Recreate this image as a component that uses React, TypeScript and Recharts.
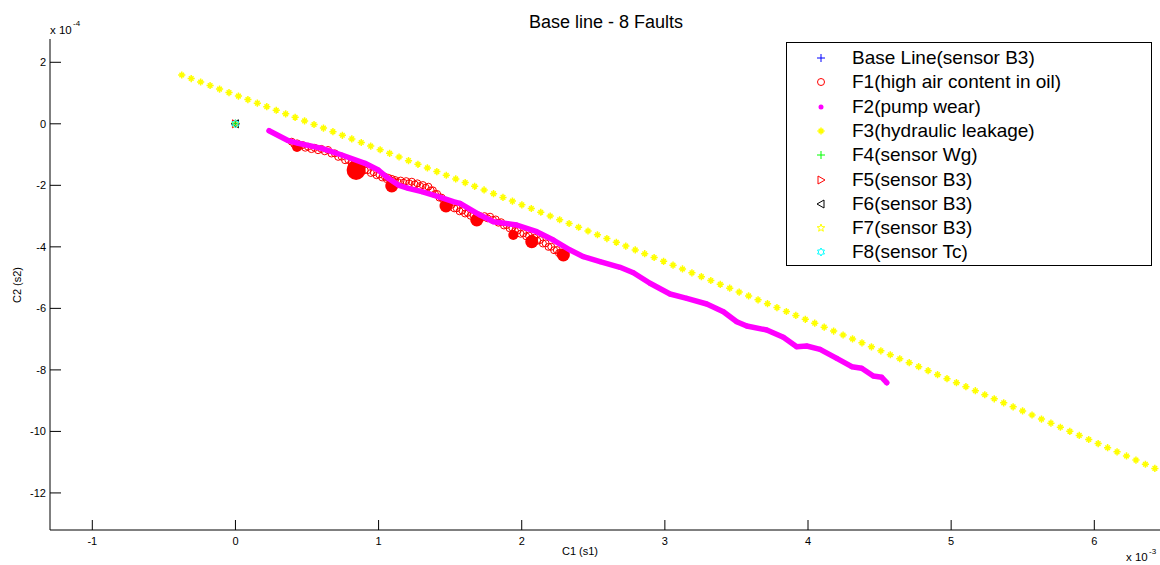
import React from "react";
import { ScatterChart, Scatter, XAxis, YAxis } from "recharts";

// axis ticks (x in units of 1e-3, y in units of 1e-4)
const xTicks = [-1, 0, 1, 2, 3, 4, 5, 6];
const yTicks = [-12, -10, -8, -6, -4, -2, 0, 2];

// Base line + F4..F8 all sit on the origin
const originX = [0];
const originY = [0];

// F1 (high air content in oil) - open circle trail
const f1X = [
  0.393, 0.431, 0.469, 0.507, 0.554, 0.6, 0.647, 0.694, 0.742, 0.789, 0.835, 0.88, 0.926, 0.966, 1.005, 1.045,
  1.068, 1.092, 1.115, 1.154, 1.193, 1.232, 1.271, 1.309, 1.348, 1.379, 1.409, 1.44, 1.475, 1.511, 1.546, 1.585,
  1.623, 1.662, 1.701, 1.74, 1.779, 1.818, 1.856, 1.895, 1.934, 1.972, 2.011, 2.05, 2.089, 2.128, 2.167, 2.206,
  2.245, 2.274, 2.303,
];
const f1Y = [
  -0.582, -0.636, -0.69, -0.744, -0.78, -0.816, -0.852, -0.96, -1.069, -1.177, -1.285, -1.394, -1.502, -1.575,
  -1.647, -1.72, -1.756, -1.791, -1.827, -1.845, -1.864, -1.882, -1.936, -1.991, -2.045, -2.163, -2.282, -2.4,
  -2.516, -2.631, -2.747, -2.82, -2.892, -2.965, -2.983, -3.002, -3.02, -3.11, -3.2, -3.29, -3.38, -3.47, -3.56,
  -3.633, -3.705, -3.778, -3.886, -3.995, -4.103, -4.184, -4.265,
];
// F1 second pass, sitting just under the first one
const f1bX = [
  0.412, 0.45, 0.488, 0.531, 0.577, 0.624, 0.671, 0.718, 0.766, 0.812, 0.858, 0.903, 0.946, 0.986, 1.025, 1.057,
  1.08, 1.104, 1.135, 1.174, 1.213, 1.252, 1.29, 1.329, 1.364, 1.394, 1.425, 1.458, 1.493, 1.529, 1.566, 1.604,
  1.643, 1.682, 1.721, 1.76, 1.799, 1.837, 1.876, 1.915, 1.953, 1.992, 2.031, 2.07, 2.109, 2.148, 2.187, 2.226,
  2.26, 2.289,
];
const f1bY = [
  -0.669, -0.723, -0.777, -0.822, -0.858, -0.894, -0.966, -1.075, -1.183, -1.291, -1.4, -1.508, -1.599, -1.671,
  -1.744, -1.798, -1.834, -1.869, -1.896, -1.915, -1.933, -1.969, -2.024, -2.078, -2.164, -2.283, -2.401, -2.518,
  -2.634, -2.749, -2.844, -2.916, -2.989, -3.034, -3.053, -3.071, -3.125, -3.215, -3.305, -3.395, -3.485, -3.575,
  -3.657, -3.729, -3.802, -3.892, -4.001, -4.109, -4.204, -4.285,
];
// F1 dwell spots (many overlapping samples)
const f1BigX = [0.843];
const f1BigY = [-1.502];
const f1MidX = [1.092, 1.471, 1.686, 2.07, 2.291];
const f1MidY = [-2.022, -2.672, -3.127, -3.833, -4.265];
const f1SmallX = [0.43, 1.941];
const f1SmallY = [-0.754, -3.615];

// F2 (pump wear)
const f2X = [
  0.235, 0.37, 0.439, 0.603, 0.743, 0.905, 0.998, 1.068, 1.138, 1.208, 1.302, 1.417, 1.522, 1.569, 1.709, 1.802,
  1.965, 2.105, 2.221, 2.338, 2.431, 2.547, 2.687, 2.78, 2.896, 3.036, 3.153, 3.293, 3.409, 3.502, 3.572, 3.712,
  3.828, 3.921, 3.991, 4.084, 4.201, 4.306, 4.375, 4.456, 4.515, 4.55,
];
const f2Y = [
  -0.224, -0.549, -0.634, -0.797, -1.014, -1.284, -1.502, -1.772, -1.99, -2.097, -2.207, -2.37, -2.532, -2.585,
  -2.965, -3.183, -3.29, -3.508, -3.778, -4.103, -4.321, -4.483, -4.665, -4.841, -5.185, -5.533, -5.673, -5.858,
  -6.108, -6.434, -6.573, -6.703, -6.941, -7.246, -7.224, -7.331, -7.624, -7.897, -7.949, -8.199, -8.241, -8.417,
];

// F3 (hydraulic leakage)
const f3X = [
  -0.375, -0.309, -0.243, -0.177, -0.111, -0.045, 0.021, 0.087, 0.153, 0.219, 0.285, 0.351, 0.417, 0.483, 0.549,
  0.615, 0.681, 0.747, 0.813, 0.879, 0.945, 1.011, 1.077, 1.143, 1.209, 1.275, 1.341, 1.407, 1.473, 1.539, 1.605,
  1.671, 1.737, 1.803, 1.869, 1.935, 2.001, 2.067, 2.133, 2.199, 2.265, 2.331, 2.397, 2.463, 2.529, 2.595, 2.661,
  2.727, 2.793, 2.859, 2.925, 2.991, 3.057, 3.123, 3.189, 3.255, 3.321, 3.387, 3.453, 3.519, 3.585, 3.651, 3.717,
  3.783, 3.849, 3.915, 3.981, 4.047, 4.113, 4.179, 4.245, 4.311, 4.377, 4.443, 4.509, 4.575, 4.641, 4.707, 4.773,
  4.839, 4.905, 4.971, 5.037, 5.103, 5.169, 5.235, 5.301, 5.367, 5.433, 5.499, 5.565, 5.631, 5.697, 5.763, 5.829,
  5.895, 5.961, 6.027, 6.093, 6.159, 6.225, 6.291, 6.357, 6.423,
];
const f3Y = [
  1.586, 1.472, 1.359, 1.245, 1.13, 1.016, 0.902, 0.787, 0.672, 0.556, 0.441, 0.325, 0.21, 0.093, -0.023, -0.139,
  -0.256, -0.373, -0.49, -0.607, -0.725, -0.843, -0.961, -1.079, -1.197, -1.316, -1.434, -1.553, -1.673, -1.792,
  -1.911, -2.031, -2.151, -2.271, -2.392, -2.513, -2.633, -2.754, -2.876, -2.997, -3.119, -3.241, -3.363, -3.485,
  -3.607, -3.73, -3.853, -3.976, -4.1, -4.223, -4.347, -4.471, -4.595, -4.719, -4.844, -4.969, -5.094, -5.219,
  -5.344, -5.47, -5.596, -5.722, -5.848, -5.974, -6.101, -6.228, -6.355, -6.482, -6.61, -6.737, -6.865, -6.993,
  -7.121, -7.25, -7.379, -7.508, -7.637, -7.766, -7.896, -8.025, -8.155, -8.286, -8.416, -8.546, -8.677, -8.808,
  -8.939, -9.071, -9.202, -9.334, -9.466, -9.599, -9.731, -9.864, -9.997, -10.13, -10.263, -10.396, -10.53,
  -10.664, -10.798, -10.932, -11.067, -11.202,
];

const legendNames = [
  "Base Line(sensor B3)",
  "F1(high air content in oil)",
  "F2(pump wear)",
  "F3(hydraulic leakage)",
  "F4(sensor Wg)",
  "F5(sensor B3)",
  "F6(sensor B3)",
  "F7(sensor B3)",
  "F8(sensor Tc)",
];

const pts = (xs: number[], ys: number[]) => xs.map((x, i) => ({ x, y: ys[i] }));

const FONT = '"Liberation Sans", Arial, Helvetica, sans-serif';

// ─── marker shapes ──────────────────────────────────────────────────────────

const star = (cx: number, cy: number, n: number, ro: number, ri: number) => {
  const p: string[] = [];
  for (let k = 0; k < n * 2; k++) {
    const r = k % 2 === 0 ? ro : ri;
    const a = -Math.PI / 2 + (k * Math.PI) / n;
    p.push(`${cx + r * Math.cos(a)},${cy + r * Math.sin(a)}`);
  }
  return p.join(" ");
};

const markers: Record<string, (cx: number, cy: number) => React.ReactElement> = {
  base: (cx, cy) => (
    <path d={`M${cx - 4},${cy}H${cx + 4}M${cx},${cy - 4}V${cy + 4}`} stroke="#0000ff" strokeWidth={1} />
  ),
  f1: (cx, cy) => <circle cx={cx} cy={cy} r={3.5} fill="none" stroke="#ff0000" strokeWidth={1} />,
  f2: (cx, cy) => <circle cx={cx} cy={cy} r={2.5} fill="#ff00ff" />,
  f3: (cx, cy) => (
    <path
      d={`M${cx - 3.6},${cy}H${cx + 3.6}M${cx},${cy - 3.6}V${cy + 3.6}M${cx - 2.3},${cy - 2.3}L${cx + 2.3},${cy + 2.3}M${cx - 2.3},${cy + 2.3}L${cx + 2.3},${cy - 2.3}`}
      stroke="#ffff00"
      strokeWidth={1.5}
    />
  ),
  f4: (cx, cy) => (
    <path d={`M${cx - 4},${cy}H${cx + 4}M${cx},${cy - 4}V${cy + 4}`} stroke="#00ff00" strokeWidth={1} />
  ),
  f5: (cx, cy) => (
    <polygon points={`${cx + 4},${cy} ${cx - 3},${cy - 4} ${cx - 3},${cy + 4}`} fill="none" stroke="#ff0000" />
  ),
  f6: (cx, cy) => (
    <polygon points={`${cx - 4},${cy} ${cx + 3},${cy - 4} ${cx + 3},${cy + 4}`} fill="none" stroke="#000000" />
  ),
  f7: (cx, cy) => <polygon points={star(cx, cy, 5, 4, 1.7)} fill="none" stroke="#ffff00" />,
  f8: (cx, cy) => <polygon points={star(cx, cy, 6, 4, 2.3)} fill="none" stroke="#00ffff" />,
};
const legendKeys = ["base", "f1", "f2", "f3", "f4", "f5", "f6", "f7", "f8"];

const shapeOf = (key: string) => (p: any) => markers[key](p.cx, p.cy);
const blob = (r: number) => (p: any) => <circle cx={p.cx} cy={p.cy} r={r} fill="#ff0000" />;
const bigBlob = (p: any) => <ellipse cx={p.cx} cy={p.cy} rx={9.5} ry={10} fill="#ff0000" />;

// ─── ticks (MATLAB style: ticks inside the box) ─────────────────────────────

const BottomTick = ({ x, y, payload }: any) => (
  <g>
    <line x1={x} y1={y} x2={x} y2={y - 10} stroke="#000" />
    <text x={x} y={y + 11} textAnchor="middle" dominantBaseline="central" fontSize={11} fontFamily={FONT} fill="#000">
      {payload.value}
    </text>
  </g>
);
const TopTick = ({ x, y }: any) => <line x1={x} y1={y} x2={x} y2={y + 10} stroke="#000" />;
const LeftTick = ({ x, y, payload }: any) => (
  <g>
    <line x1={x} y1={y} x2={x + 11} y2={y} stroke="#000" />
    <text x={x - 4} y={y} textAnchor="end" dominantBaseline="central" fontSize={11} fontFamily={FONT} fill="#000">
      {payload.value}
    </text>
  </g>
);
const RightTick = ({ x, y }: any) => <line x1={x} y1={y} x2={x - 11} y2={y} stroke="#000" />;

export default function App() {
  const f1Data = [...pts(f1X, f1Y), ...pts(f1bX, f1bY)];
  return (
    <div style={{ position: "absolute", left: 0, top: 0, width: 1160, height: 565, overflow: "hidden", background: "#fff" }}>
      <ScatterChart width={1160} height={565} margin={{ top: 39, right: 0, bottom: 0, left: 0 }}>
        <XAxis
          xAxisId="b"
          dataKey="x"
          type="number"
          domain={[-1.2955, 6.459]}
          ticks={xTicks}
          allowDataOverflow
          height={35}
          tickSize={0}
          tickMargin={0}
          tickLine={false}
          tick={<BottomTick />}
          axisLine={{ stroke: "#000" }}
        />
        <XAxis
          xAxisId="t"
          orientation="top"
          type="number"
          domain={[-1.2955, 6.459]}
          ticks={xTicks}
          allowDataOverflow
          height={0}
          tickSize={0}
          tickMargin={0}
          tickLine={false}
          tick={<TopTick />}
          axisLine={{ stroke: "#000" }}
        />
        <YAxis
          yAxisId="l"
          dataKey="y"
          type="number"
          domain={[-13.205, 2.757]}
          ticks={yTicks}
          allowDataOverflow
          width={50}
          tickSize={0}
          tickMargin={0}
          tickLine={false}
          tick={<LeftTick />}
          axisLine={{ stroke: "#000" }}
        />
        <YAxis
          yAxisId="r"
          orientation="right"
          type="number"
          domain={[-13.205, 2.757]}
          ticks={yTicks}
          allowDataOverflow
          width={0}
          tickSize={0}
          tickMargin={0}
          tickLine={false}
          tick={<RightTick />}
          axisLine={false}
        />

        <Scatter name="Base Line(sensor B3)" xAxisId="b" yAxisId="l" data={pts(originX, originY)} shape={shapeOf("base")} isAnimationActive={false} />
        <Scatter name="F1 dwell big" xAxisId="b" yAxisId="l" data={pts(f1BigX, f1BigY)} shape={bigBlob} isAnimationActive={false} />
        <Scatter name="F1 dwell mid" xAxisId="b" yAxisId="l" data={pts(f1MidX, f1MidY)} shape={blob(6.5)} isAnimationActive={false} />
        <Scatter name="F1 dwell small" xAxisId="b" yAxisId="l" data={pts(f1SmallX, f1SmallY)} shape={blob(5)} isAnimationActive={false} />
        <Scatter name="F1(high air content in oil)" xAxisId="b" yAxisId="l" data={f1Data} shape={shapeOf("f1")} isAnimationActive={false} />
        <Scatter
          name="F2(pump wear)"
          xAxisId="b"
          yAxisId="l"
          data={pts(f2X, f2Y)}
          line={{ stroke: "#ff00ff", strokeWidth: 5.5, strokeLinejoin: "round", strokeLinecap: "round" }}
          shape={shapeOf("f2")}
          isAnimationActive={false}
        />
        <Scatter name="F3(hydraulic leakage)" xAxisId="b" yAxisId="l" data={pts(f3X, f3Y)} shape={shapeOf("f3")} isAnimationActive={false} />
        <Scatter name="F4(sensor Wg)" xAxisId="b" yAxisId="l" data={pts(originX, originY)} shape={shapeOf("f4")} isAnimationActive={false} />
        <Scatter name="F5(sensor B3)" xAxisId="b" yAxisId="l" data={pts(originX, originY)} shape={shapeOf("f5")} isAnimationActive={false} />
        <Scatter name="F6(sensor B3)" xAxisId="b" yAxisId="l" data={pts(originX, originY)} shape={shapeOf("f6")} isAnimationActive={false} />
        <Scatter name="F7(sensor B3)" xAxisId="b" yAxisId="l" data={pts(originX, originY)} shape={shapeOf("f7")} isAnimationActive={false} />
        <Scatter name="F8(sensor Tc)" xAxisId="b" yAxisId="l" data={pts(originX, originY)} shape={shapeOf("f8")} isAnimationActive={false} />
      </ScatterChart>

      {/* title, axis labels, exponent labels */}
      <svg width={1160} height={565} style={{ position: "absolute", left: 0, top: 0, pointerEvents: "none" }}>
        <g fontFamily={FONT} fill="#000">
          <text x={606} y={22} textAnchor="middle" dominantBaseline="central" fontSize={18}>
            Base line - 8 Faults
          </text>
          <text x={50} y={30} fontSize={11.5} dominantBaseline="central">x 10</text>
          <text x={73} y={23} fontSize={8} dominantBaseline="central">-4</text>
          <text x={580} y={551} textAnchor="middle" dominantBaseline="central" fontSize={11}>C1 (s1)</text>
          <text x={17} y={285} textAnchor="middle" dominantBaseline="central" fontSize={11} transform="rotate(-90 17 285)">
            C2 (s2)
          </text>
          <text x={1126} y={557} fontSize={11.5} dominantBaseline="central">x 10</text>
          <text x={1149} y={551} fontSize={8} dominantBaseline="central">-3</text>
        </g>
      </svg>

      {/* legend */}
      <div
        style={{
          position: "absolute",
          left: 786,
          top: 42,
          width: 364,
          height: 222,
          border: "1px solid #000",
          background: "#fff",
          fontFamily: FONT,
          fontSize: 19,
          color: "#000",
        }}
      >
        {legendNames.map((name, i) => (
          <div key={name} style={{ position: "absolute", left: 0, top: 3 + i * 24.3, height: 24, width: 364 }}>
            <svg width={20} height={24} style={{ position: "absolute", left: 24, top: 0 }}>
              {markers[legendKeys[i]](10, 12)}
            </svg>
            <span style={{ position: "absolute", left: 65, top: 0, lineHeight: "24px", whiteSpace: "nowrap" }}>{name}</span>
          </div>
        ))}
      </div>
    </div>
  );
}
